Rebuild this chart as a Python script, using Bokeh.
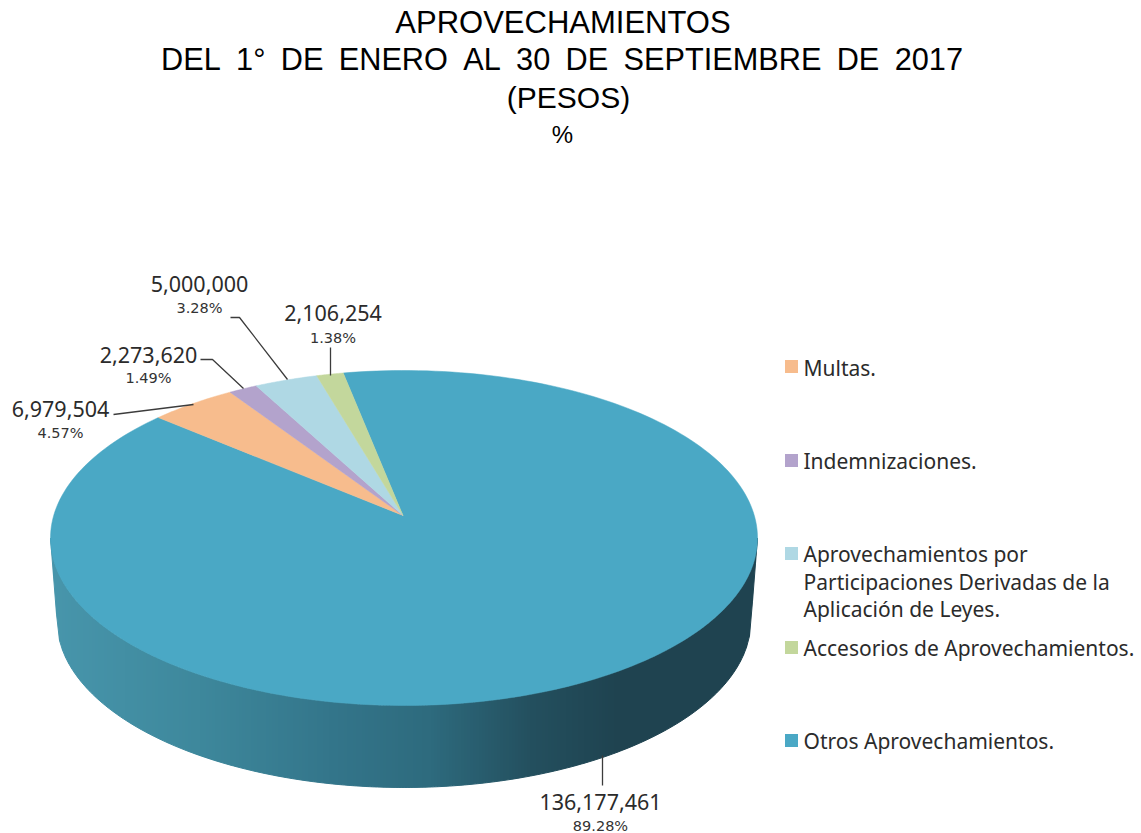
import numpy as np
from bokeh.plotting import figure
from bokeh.models import Range1d
from bokeh.core.properties import value
from bokeh.embed import file_html
from bokeh.resources import INLINE

# ---- data ----
categories = ["Multas.", "Indemnizaciones.",
              "Aprovechamientos por Participaciones Derivadas de la Aplicación de Leyes.",
              "Accesorios de Aprovechamientos.", "Otros Aprovechamientos."]
amounts = [6979504, 2273620, 5000000, 2106254, 136177461]
amount_labels = ["6,979,504", "2,273,620", "5,000,000", "2,106,254", "136,177,461"]
percent_labels = ["4.57%", "1.49%", "3.28%", "1.38%", "89.28%"]
title_lines = ["APROVECHAMIENTOS",
               "DEL 1° DE ENERO AL 30 DE SEPTIEMBRE DE 2017".replace(" ", "\u2002"),
               "(PESOS)", "%"]
legend_lines = [["Multas."], ["Indemnizaciones."],
                ["Aprovechamientos por", "Participaciones Derivadas de la", "Aplicación de Leyes."],
                ["Accesorios de Aprovechamientos."], ["Otros Aprovechamientos."]]

# ---- style / layout (page pixel coordinates) ----
colors = ["#F7BC8D", "#B3A3CC", "#AFD8E4", "#C3D79C", "#4AA8C5"]
CX, CY, RX, RY = 403.5, 537.5, 353.5, 167.5       # top face
APEX = (402.5, 515.0)                             # perspective apex of the slices
BX, BY, BRX, BRY = 403.5, 620.0, 347.0, 167.0     # lower rim
START_DEG, SWEEP = 99.9, 0.884                    # start angle, foreshortening
wall_stops_x = [50, 200, 330, 430, 530, 620, 757]
wall_stops_c = [(72, 150, 172), (62, 136, 156), (52, 118, 139), (46, 107, 126),
                (36, 80, 95), (31, 67, 80), (31, 67, 80)]

label_pos = [(60, 408, 432), (148, 354, 377), (199, 283, 307), (332.5, 312, 337), (600, 801, 825)]
leaders = [([113, 193], [414, 404]),
           ([200, 212, 243], [359, 359, 388]),
           ([230, 239, 287], [317, 317, 379]),
           ([330, 330], [347, 375]),
           ([602, 602], [755, 785])]
title_x = [562.5, 561.5, 568, 562]
title_y = [22, 59, 97, 134]
title_size = ["31px", "30.7px", "30px", "24px"]
legend_sq_y = [366, 460, 553, 647, 740]
legend_text_y = [[367], [460], [553, 581, 608], [647], [740]]

p = figure(width=1141, height=833, output_backend="svg", toolbar_location=None,
           x_range=Range1d(0, 1141), y_range=Range1d(833, 0),
           min_border=0, outline_line_color=None, background_fill_color="white")
p.axis.visible = False
p.grid.visible = False

# ---- side wall, as vertical shaded strips ----
def upper(x):
    return CY + RY * np.sqrt(np.clip(1 - ((x - CX) / RX) ** 2, 0, 1))

def lower(x):
    dx = np.abs(x - BX)
    if dx <= BRX:
        return BY + BRY * np.sqrt(1 - (dx / BRX) ** 2)
    return BY - (dx - BRX) / (RX - BRX) * (BY - CY)

edges = np.arange(CX - RX, CX + RX + 3, 3.0)
edges[-1] = CX + RX
wall_xs, wall_ys, wall_cs = [], [], []
for a, b in zip(edges[:-1], edges[1:]):
    m = (a + b) / 2
    rgb = [int(np.interp(m, wall_stops_x, [c[i] for c in wall_stops_c])) for i in range(3)]
    wall_xs.append([a, b, b, a])
    wall_ys.append([upper(a), upper(b), lower(b), lower(a)])
    wall_cs.append("#%02x%02x%02x" % tuple(rgb))
p.patches(wall_xs, wall_ys, fill_color=wall_cs, line_color=wall_cs, line_width=1)

# ---- top face: slices from the values ----
total = sum(amounts)
order = [3, 2, 1, 0]            # walking counter-clockwise from the start angle
angle = START_DEG
bounds = {}
for i in order:
    sweep = 360.0 * amounts[i] / total * SWEEP
    bounds[i] = (angle, angle + sweep)
    angle += sweep
bounds[4] = (angle, START_DEG + 360.0)

for i in [4, 0, 1, 2, 3]:
    t = np.radians(np.linspace(bounds[i][0], bounds[i][1], 240 if i == 4 else 30))
    xs = np.concatenate([[APEX[0]], CX + RX * np.cos(t)])
    ys = np.concatenate([[APEX[1]], CY - RY * np.sin(t)])
    p.patch(xs, ys, fill_color=colors[i], line_color=colors[i], line_width=0.5)

# ---- leader lines ----
for (lx, ly) in leaders:
    p.line(lx, ly, line_color="#3c3c3c", line_width=1.3)

# ---- value labels ----
for i in range(5):
    x, y1, y2 = label_pos[i]
    p.text([x], [y1], text=[amount_labels[i]], text_font=value("Noto Sans"), text_font_size="21.5px",
           text_color="#2b2b2b", text_align="center", text_baseline="middle")
    p.text([x], [y2], text=[percent_labels[i]], text_font=value("DejaVu Sans"), text_font_size="14.5px",
           text_color="#333333", text_align="center", text_baseline="middle")

# ---- legend ----
p.scatter([791] * 5, legend_sq_y, marker="square", size=13, fill_color=colors, line_color=None)
for lines, ys in zip(legend_lines, legend_text_y):
    for s, y in zip(lines, ys):
        p.text([803], [y], text=[s], text_font=value("Noto Sans"), text_font_size="21px",
               text_color="#2b2b2b", text_align="left", text_baseline="middle")

# ---- title ----
for s, x, y, fs in zip(title_lines, title_x, title_y, title_size):
    p.text([x], [y], text=[s], text_font=value("Liberation Sans"), text_font_size=fs,
           text_color="#000000", text_align="center", text_baseline="middle")

open("out.html", "w").write(file_html(p, INLINE))
